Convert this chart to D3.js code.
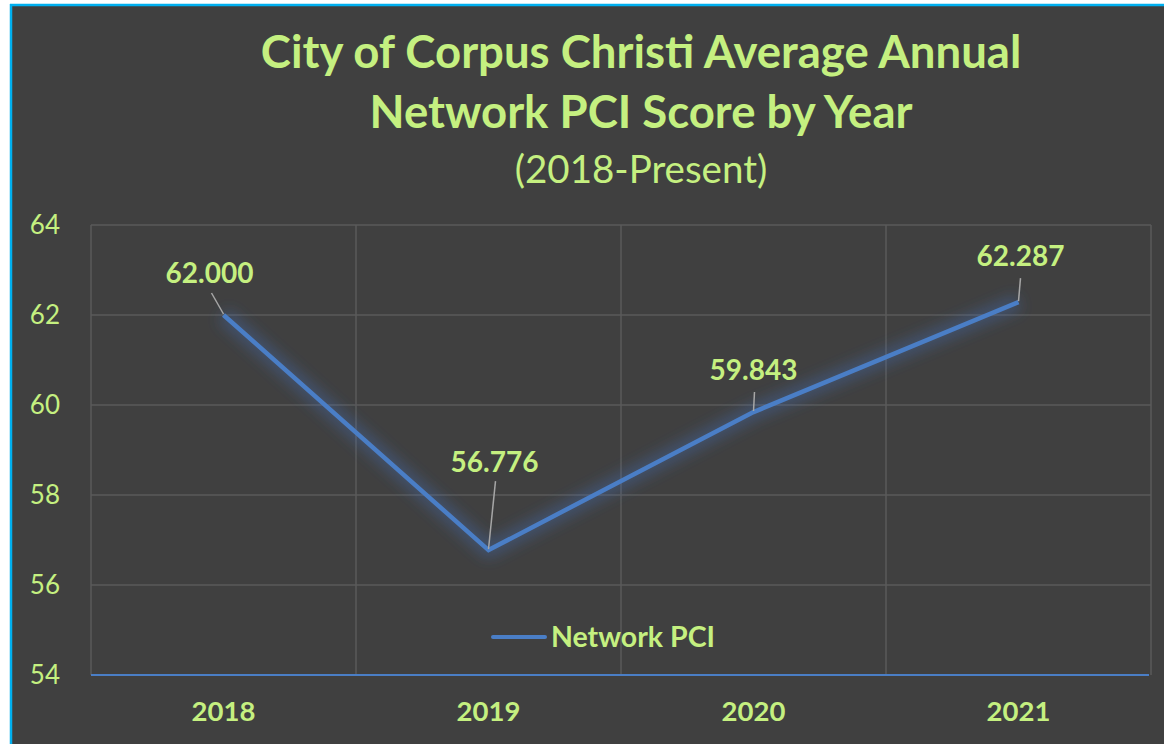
<!DOCTYPE html>
<html>
<head>
<meta charset="utf-8">
<script src="https://cdn.jsdelivr.net/npm/d3@7"></script>
<style>
  body { margin: 0; background: #ffffff; }
  svg { display: block; font-family: Lato, "Noto Sans", sans-serif; }
</style>
</head>
<body>
<div id="chart"></div>
<script>
// data
const years = ['2018', '2019', '2020', '2021'];
const pciValues = [62.000, 56.776, 59.843, 62.287];
const yTicks = [54, 56, 58, 60, 62, 64];
const titleLines = ['City of Corpus Christi Average Annual', 'Network PCI Score by Year'];
const subtitle = '(2018-Present)';
const seriesName = 'Network PCI';

// label offsets from each point: [dx, dy] of label baseline center, leader start
const labelOffsets = [[-14, -32], [6, -78], [0, -32], [2, -36]];
const leaderOffsets = [[-12, -22], [7, -69], [1, -20], [2, -24]];

const W = 1164, H = 744;
const green = '#c5f080';
const bg = '#404040';
const grid = '#5a5a5a';
const blue = '#4a7ec6';

const svg = d3.select('#chart').append('svg')
    .attr('width', W).attr('height', H);

const defs = svg.append('defs');
const glow = defs.append('filter').attr('id', 'glow')
    .attr('x', '-20%').attr('y', '-20%').attr('width', '140%').attr('height', '140%');
glow.append('feGaussianBlur').attr('stdDeviation', 7);

// chart background with blue frame on top and left
svg.append('rect').attr('x', 10).attr('y', 4).attr('width', W).attr('height', H)
    .attr('fill', bg);
svg.append('line').attr('x1', 10).attr('x2', W).attr('y1', 5).attr('y2', 5)
    .attr('stroke', '#00b0f0').attr('stroke-width', 2.5);
svg.append('line').attr('x1', 11).attr('x2', 11).attr('y1', 4).attr('y2', H)
    .attr('stroke', '#00b0f0').attr('stroke-width', 2.5);

// titles
const title = svg.append('text').attr('text-anchor', 'middle').attr('fill', green)
    .attr('font-weight', 700).attr('font-size', 45.5);
titleLines.forEach((t, i) => {
    title.append('tspan').attr('x', 641).attr('y', 68 + i * 60).text(t);
});
svg.append('text').attr('x', 641).attr('y', 183).attr('text-anchor', 'middle')
    .attr('fill', green).attr('font-size', 38.5).text(subtitle);

const plot = {left: 91, right: 1151, top: 225, bottom: 675};

const x = d3.scaleBand().domain(years).range([plot.left, plot.right]);
const y = d3.scaleLinear().domain([54, 64]).range([plot.bottom, plot.top]);
const cx = d => x(d) + x.bandwidth() / 2;

// horizontal gridlines
svg.append('g').selectAll('line')
    .data(yTicks.filter(t => t > 54))
    .join('line')
    .attr('x1', plot.left).attr('x2', plot.right)
    .attr('y1', d => y(d)).attr('y2', d => y(d))
    .attr('stroke', grid).attr('stroke-width', 1.5);

// vertical gridlines at category edges
const edges = years.map(d => x(d)).concat([plot.right]);
svg.append('g').selectAll('line')
    .data(edges)
    .join('line')
    .attr('x1', d => d).attr('x2', d => d)
    .attr('y1', plot.top).attr('y2', plot.bottom)
    .attr('stroke', grid).attr('stroke-width', 1.5);

// y axis labels
const yAxis = svg.append('g')
    .attr('transform', `translate(${plot.left - 31},0)`)
    .call(d3.axisLeft(y).tickValues(yTicks).tickSize(0).tickPadding(0));
yAxis.select('.domain').remove();
yAxis.selectAll('text').attr('fill', green).attr('font-size', 26)
    .attr('font-family', 'Lato, sans-serif').attr('dy', '0.34em');

// x axis line and labels
svg.append('line').attr('x1', plot.left).attr('x2', plot.right - 2)
    .attr('y1', plot.bottom).attr('y2', plot.bottom)
    .attr('stroke', blue).attr('stroke-width', 2);
const xAxis = svg.append('g')
    .attr('transform', `translate(0,${plot.bottom + 26})`)
    .call(d3.axisBottom(x).tickSize(0).tickPadding(0));
xAxis.select('.domain').remove();
xAxis.selectAll('text').attr('fill', green).attr('font-size', 27.5).attr('font-weight', 700)
    .attr('font-family', 'Lato, sans-serif').attr('dy', '0.71em');

// series line with glow
const points = years.map((d, i) => [cx(d), y(pciValues[i])]);
const lineGen = d3.line();
svg.append('path').attr('d', lineGen(points))
    .attr('fill', 'none').attr('stroke', '#4472c4').attr('stroke-width', 16)
    .attr('stroke-opacity', 0.35).attr('stroke-linejoin', 'round')
    .attr('filter', 'url(#glow)');
svg.append('path').attr('d', lineGen(points))
    .attr('fill', 'none').attr('stroke', blue).attr('stroke-width', 4.5)
    .attr('stroke-linejoin', 'miter');

// leader lines and data labels
svg.append('g').selectAll('line')
    .data(points)
    .join('line')
    .attr('x1', (p, i) => p[0] + leaderOffsets[i][0])
    .attr('y1', (p, i) => p[1] + leaderOffsets[i][1])
    .attr('x2', p => p[0]).attr('y2', p => p[1] - 1)
    .attr('stroke', '#a6a6a6').attr('stroke-width', 1.5);

svg.append('g').selectAll('text')
    .data(points)
    .join('text')
    .attr('x', (p, i) => p[0] + labelOffsets[i][0])
    .attr('y', (p, i) => p[1] + labelOffsets[i][1])
    .attr('text-anchor', 'middle').attr('fill', green)
    .attr('font-size', 28).attr('font-weight', 700)
    .text((p, i) => pciValues[i].toFixed(3));

// legend
const legend = svg.append('g').attr('transform', 'translate(493,637)');
legend.append('line').attr('x1', 0).attr('x2', 52)
    .attr('stroke', blue).attr('stroke-width', 4).attr('stroke-linecap', 'round');
legend.append('text').attr('x', 58).attr('y', 10).attr('fill', green)
    .attr('font-size', 28.5).attr('font-weight', 700).text(seriesName);
</script>
</body>
</html>
